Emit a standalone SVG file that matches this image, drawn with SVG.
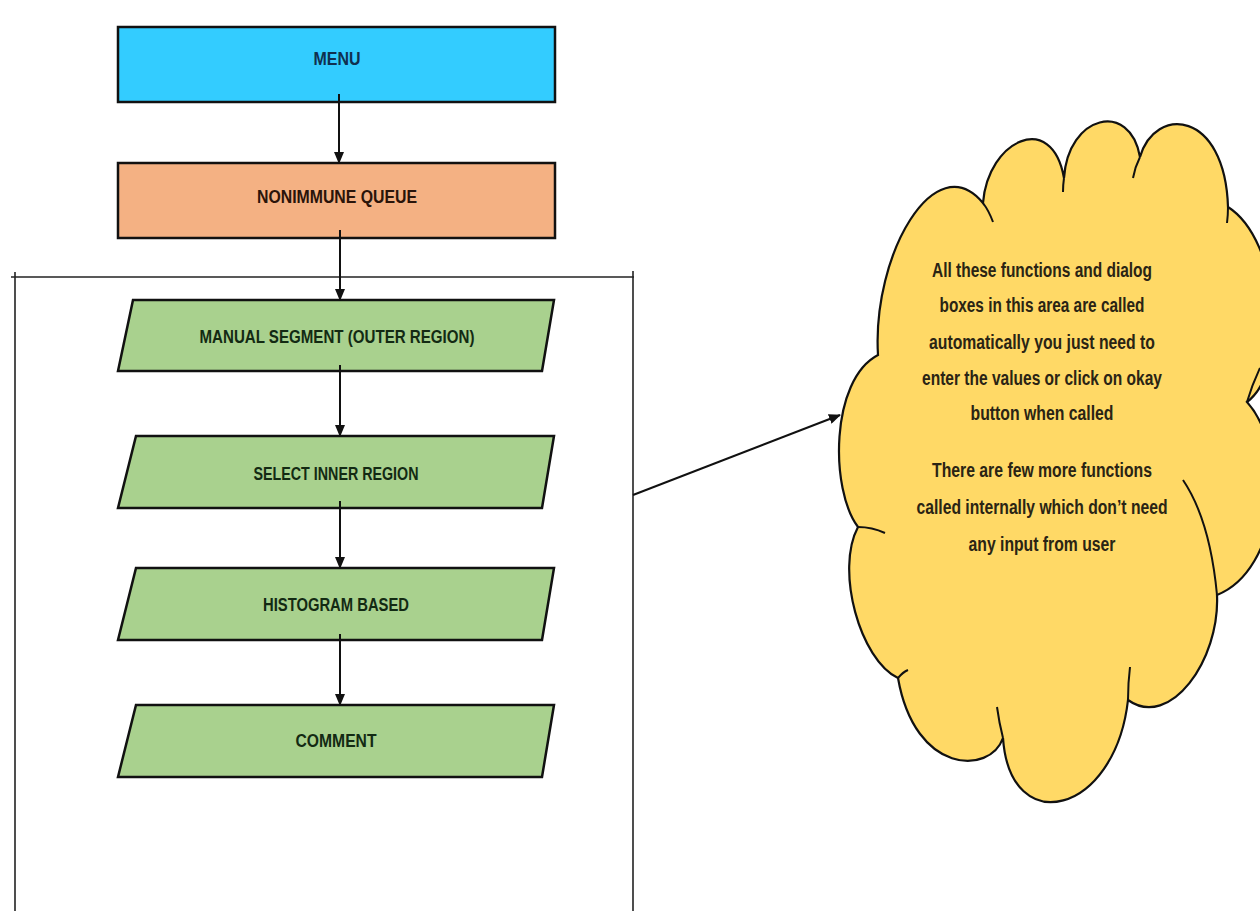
<svg xmlns="http://www.w3.org/2000/svg" width="1260" height="911" viewBox="0 0 1260 911">
<style>
.box{stroke:#111;stroke-width:2.5}
.lbl{font-family:"Liberation Sans",Arial,sans-serif;font-weight:bold;font-size:19px;text-anchor:middle;dominant-baseline:central}
.ct{font-family:"Liberation Sans",Arial,sans-serif;font-weight:bold;font-size:20px;text-anchor:middle;dominant-baseline:central;fill:#2a2414}
.conn{stroke:#111;stroke-width:2;fill:none}
.frame{stroke:#222;stroke-width:1.6;fill:none}
.tail{stroke:#111;stroke-width:2;fill:none}
</style>
<defs>
<marker id="ah" markerUnits="userSpaceOnUse" markerWidth="12" markerHeight="10" refX="11" refY="5" orient="auto">
<path d="M0,0 L12,5 L0,10 Z" fill="#111"/>
</marker>
</defs>
<rect width="1260" height="911" fill="#ffffff"/>

<g id="frame">
<line class="frame" x1="11" y1="277" x2="634" y2="277"/>
<line class="frame" x1="15" y1="272" x2="15" y2="911"/>
<line class="frame" x1="633" y1="271" x2="633" y2="911"/>
</g>

<g id="menu">
<rect class="box" x="118" y="27" width="437" height="75" fill="#33CCFF"/>
<text class="lbl" x="337" y="58" fill="#10304f" textLength="47" lengthAdjust="spacingAndGlyphs">MENU</text>
</g>

<g id="nonimmune-queue">
<rect class="box" x="118" y="163" width="437" height="75" fill="#F4B183"/>
<text class="lbl" x="337" y="196" fill="#2a140a" textLength="160" lengthAdjust="spacingAndGlyphs">NONIMMUNE QUEUE</text>
</g>

<g id="manual-segment">
<polygon class="box" points="133,300 554,300 542,371 118,371" fill="#A9D18E"/>
<text class="lbl" x="337" y="336" fill="#132a13" textLength="275" lengthAdjust="spacingAndGlyphs">MANUAL SEGMENT (OUTER REGION)</text>
</g>

<g id="select-inner-region">
<polygon class="box" points="136,436 554,436 542,508 118,508" fill="#A9D18E"/>
<text class="lbl" x="336" y="473" fill="#132a13" textLength="165" lengthAdjust="spacingAndGlyphs">SELECT INNER REGION</text>
</g>

<g id="histogram-based">
<polygon class="box" points="136,568 554,568 542,640 118,640" fill="#A9D18E"/>
<text class="lbl" x="336" y="604" fill="#132a13" textLength="146" lengthAdjust="spacingAndGlyphs">HISTOGRAM BASED</text>
</g>

<g id="comment">
<polygon class="box" points="136,705 554,705 542,777 118,777" fill="#A9D18E"/>
<text class="lbl" x="336" y="740" fill="#132a13" textLength="81" lengthAdjust="spacingAndGlyphs">COMMENT</text>
</g>

<g id="cloud">
<path d="M878,355 C872,255 935,145 983,203 C988,140 1052,110 1064,178 C1068,115 1130,100 1140,157 C1155,105 1225,110 1228,207 C1280,240 1290,370 1247,402 C1290,450 1280,570 1217,595 C1220,660 1170,730 1128,700 C1115,815 1010,840 1003,738 C990,775 915,775 898,678 C860,660 835,570 858,527 C830,490 830,380 878,355 Z" fill="#FFD966" stroke="#111" stroke-width="2.2"/>
<path class="tail" d="M983,203 Q989,211 993,222"/>
<path class="tail" d="M1064,178 Q1063,185 1063,192"/>
<path class="tail" d="M1140,157 Q1135,167 1133,178"/>
<path class="tail" d="M1228,207 Q1228,215 1227,223"/>
<path class="tail" d="M1260,368 Q1252,385 1247,402"/>
<path class="tail" d="M1183,480 Q1210,520 1217,595"/>
<path class="tail" d="M1128,700 Q1128,683 1130,667"/>
<path class="tail" d="M1003,738 Q999,722 997,707"/>
<path class="tail" d="M898,678 Q903,672 908,670"/>
<path class="tail" d="M858,527 Q872,527 885,533"/>
<text class="ct" x="1042" y="270" textLength="220" lengthAdjust="spacingAndGlyphs">All these functions and dialog</text>
<text class="ct" x="1042" y="305" textLength="205" lengthAdjust="spacingAndGlyphs">boxes in this area are called</text>
<text class="ct" x="1042" y="342" textLength="226" lengthAdjust="spacingAndGlyphs">automatically you just need to</text>
<text class="ct" x="1042" y="378" textLength="240" lengthAdjust="spacingAndGlyphs">enter the values or click on okay</text>
<text class="ct" x="1042" y="413" textLength="143" lengthAdjust="spacingAndGlyphs">button when called</text>
<text class="ct" x="1042" y="470" textLength="220" lengthAdjust="spacingAndGlyphs">There are few more functions</text>
<text class="ct" x="1042" y="507" textLength="251" lengthAdjust="spacingAndGlyphs">called internally which don’t need</text>
<text class="ct" x="1042" y="544" textLength="147" lengthAdjust="spacingAndGlyphs">any input from user</text>
</g>

<g id="connectors">
<line class="conn" x1="339" y1="94" x2="339" y2="163" marker-end="url(#ah)"/>
<line class="conn" x1="340" y1="230" x2="340" y2="300" marker-end="url(#ah)"/>
<line class="conn" x1="340" y1="365" x2="340" y2="436" marker-end="url(#ah)"/>
<line class="conn" x1="340" y1="501" x2="340" y2="568" marker-end="url(#ah)"/>
<line class="conn" x1="340" y1="634" x2="340" y2="705" marker-end="url(#ah)"/>
<line class="conn" x1="633" y1="495" x2="840" y2="415" marker-end="url(#ah)"/>
</g>
</svg>
